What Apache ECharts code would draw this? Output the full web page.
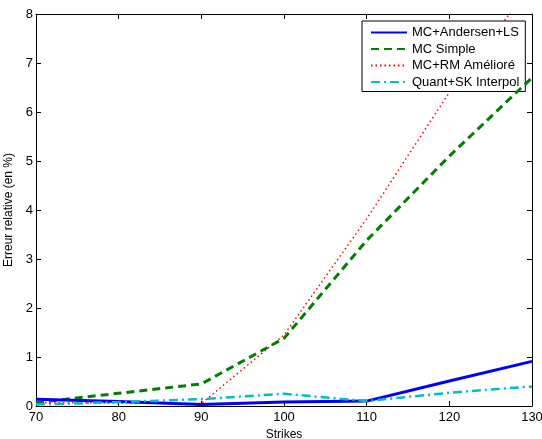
<!DOCTYPE html>
<html>
<head>
<meta charset="utf-8">
<script src="https://cdn.jsdelivr.net/npm/echarts@6/dist/echarts.min.js"></script>
<style>html,body{margin:0;padding:0;background:#fff;}#c{width:542px;height:439px;}</style>
</head>
<body>
<div id="c"></div>
<script>
var strikes = [70, 80, 90, 100, 110, 120, 130];
var andersenLS = [0.14, 0.09, 0.03, 0.08, 0.10, 0.51, 0.91];
var mcSimple = [0.07, 0.26, 0.45, 1.38, 3.38, 5.10, 6.70];
var mcRM = [0.07, 0.06, 0.05, 1.45, 3.82, 6.40, 8.60];
var quantSK = [0.03, 0.08, 0.14, 0.25, 0.10, 0.27, 0.40];
var seriesNames = ['MC+Andersen+LS', 'MC Simple', 'MC+RM Amélioré', 'Quant+SK Interpol'];
var xTicks = [70, 80, 90, 100, 110, 120, 130];
var yTicks = [0, 1, 2, 3, 4, 5, 6, 7, 8];

function pairs(vals) { return strikes.map(function (s, i) { return [s, vals[i]]; }); }

var font = 'Liberation Sans, Arial, sans-serif';
var chart = echarts.init(document.getElementById('c'), null, { renderer: 'canvas' });
var axisCommon = {
  axisLine: { show: true, onZero: false, lineStyle: { color: '#000', width: 1 } },
  axisTick: { show: true, inside: true, length: 5, lineStyle: { color: '#000' } },
  splitLine: { show: false }
};
chart.setOption({
  animation: false,
  backgroundColor: '#fff',
  grid: { left: 36, right: 10, top: 14, bottom: 33, containLabel: false, outerBoundsMode: 'none' },
  legend: {
    orient: 'vertical', left: 362, top: 21,
    backgroundColor: '#fff', borderColor: '#000', borderWidth: 1, borderRadius: 0,
    padding: [5, 6, 3, 8], itemGap: 3.5, itemWidth: 36, itemHeight: 10,
    itemStyle: { opacity: 0 },
    textStyle: { fontFamily: font, fontSize: 13, color: '#000' },
    data: seriesNames
  },
  xAxis: [
    Object.assign({}, axisCommon, {
      type: 'value', min: 70, max: 130, interval: 10,
      name: 'Strikes', nameLocation: 'middle', nameGap: 20,
      nameTextStyle: { fontFamily: font, fontSize: 12, color: '#000' },
      axisLabel: { fontFamily: font, fontSize: 13, color: '#000', margin: 5,
        formatter: function (v) { return xTicks.indexOf(v) >= 0 ? String(v) : ''; } }
    }),
    Object.assign({}, axisCommon, {
      type: 'value', position: 'top', min: 70, max: 130, interval: 10,
      axisLabel: { show: false }
    })
  ],
  yAxis: [
    Object.assign({}, axisCommon, {
      type: 'value', min: 0, max: 8, interval: 1,
      name: 'Erreur relative (en %)', nameLocation: 'middle', nameGap: 14,
      nameTextStyle: { fontFamily: font, fontSize: 12, color: '#000' },
      axisLabel: { fontFamily: font, fontSize: 13, color: '#000', margin: 3,
        formatter: function (v) { return yTicks.indexOf(v) >= 0 ? String(v) : ''; } }
    }),
    Object.assign({}, axisCommon, {
      type: 'value', position: 'right', min: 0, max: 8, interval: 1,
      axisLabel: { show: false }
    })
  ],
  series: [
    { name: seriesNames[0], type: 'line', data: pairs(andersenLS), symbol: 'none', z: 5,
      lineStyle: { color: '#0000ff', width: 3, type: 'solid' }, itemStyle: { color: '#0000ff' } },
    { name: seriesNames[1], type: 'line', data: pairs(mcSimple), symbol: 'none', z: 4,
      lineStyle: { color: '#008000', width: 3, type: [8, 5] }, itemStyle: { color: '#008000' } },
    { name: seriesNames[2], type: 'line', data: pairs(mcRM), symbol: 'none', z: 3,
      lineStyle: { color: '#ff0000', width: 1.5, type: [1.5, 3] }, itemStyle: { color: '#ff0000' } },
    { name: seriesNames[3], type: 'line', data: pairs(quantSK), symbol: 'none', z: 6,
      lineStyle: { color: '#00bfbf', width: 2.5, type: [9, 4, 2, 4] }, itemStyle: { color: '#00bfbf' } }
  ]
});
</script>
</body>
</html>
